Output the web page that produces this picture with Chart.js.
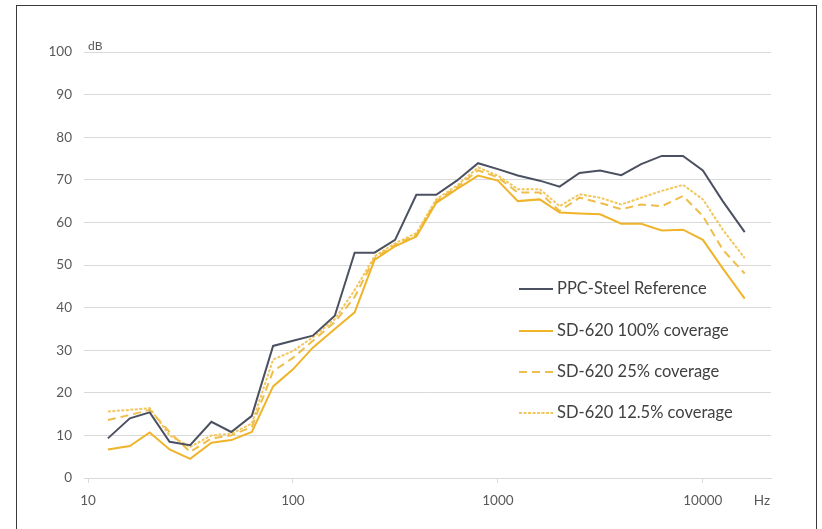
<!DOCTYPE html>
<html>
<head>
<meta charset="utf-8">
<script src="https://cdn.jsdelivr.net/npm/chart.js@4"></script>
<style>
  html, body { margin: 0; padding: 0; background: #fff; overflow: hidden; }
  #wrap { position: relative; width: 822px; height: 529px; }
  #frame { position: absolute; left: 16px; top: 5px; width: 801px; height: 530px; border: 1px solid #3a3a3a; box-sizing: border-box; pointer-events: none; }
</style>
</head>
<body>
<div id="wrap">
  <canvas id="lineChart" width="822" height="529"></canvas>
  <div id="frame"></div>
</div>
<script>
/* Data */
const freqs = [12.5, 16, 20, 25, 31.5, 40, 50, 63, 80, 100, 125, 160, 200, 250, 315, 400, 500, 630, 800, 1000, 1250, 1600, 2000, 2500, 3150, 4000, 5000, 6300, 8000, 10000, 12500, 16000];
const steelRef = [9.3, 14.0, 15.4, 8.5, 7.7, 13.2, 10.8, 14.6, 31.0, 32.2, 33.4, 38.1, 52.9, 52.9, 55.9, 66.5, 66.5, 69.8, 73.9, 72.5, 71.0, 69.8, 68.4, 71.6, 72.2, 71.1, 73.7, 75.6, 75.6, 72.2, 65.0, 57.7];
const sd100 = [6.7, 7.5, 10.7, 6.7, 4.5, 8.3, 8.9, 10.8, 21.5, 25.5, 30.6, 35.0, 38.9, 51.2, 54.4, 56.7, 64.6, 67.8, 71.0, 69.8, 65.0, 65.4, 62.3, 62.1, 61.9, 59.7, 59.7, 58.1, 58.3, 55.9, 49.2, 42.1];
const sd25 = [13.6, 14.8, 16.0, 10.8, 6.1, 9.3, 10.0, 12.0, 25.1, 28.2, 32.2, 36.6, 42.5, 51.6, 54.7, 57.1, 65.0, 68.2, 72.2, 70.6, 67.0, 67.0, 62.7, 65.8, 64.6, 63.1, 64.2, 63.8, 66.2, 61.5, 53.6, 48.0];
const sd125 = [15.6, 16.0, 16.4, 10.0, 7.3, 10.0, 10.4, 12.8, 27.8, 29.8, 33.0, 37.3, 44.1, 52.0, 55.1, 57.5, 65.4, 68.6, 72.9, 71.0, 67.8, 67.8, 63.8, 66.6, 65.8, 64.2, 65.8, 67.4, 68.8, 65.4, 58.3, 51.6];
const seriesNames = ["PPC-Steel Reference", "SD-620 100% coverage", "SD-620 25% coverage", "SD-620 12.5% coverage"];
const xTicks = [10, 100, 1000, 10000];
const xUnit = "Hz";
const yUnit = "dB";

// pair each value with its frequency
function toPoints(vals) {
  return vals.map((v, i) => ({ x: freqs[i], y: v }));
}

/* Legend drawn inside the plot, Excel style */
const insideLegend = {
  id: "insideLegend",
  afterDraw(chart) {
    const c = chart.ctx;
    const x0 = 519, x1 = 553, tx = 557;
    const rows = [289, 331, 372, 413];
    c.save();
    c.font = "16.5px Lato";
    c.textBaseline = "middle";
    chart.data.datasets.forEach((ds, i) => {
      c.strokeStyle = ds.borderColor;
      c.lineWidth = ds.borderWidth;
      c.setLineDash(ds.borderDash || []);
      c.beginPath();
      c.moveTo(x0, rows[i]);
      c.lineTo(x1, rows[i]);
      c.stroke();
      c.setLineDash([]);
      c.fillStyle = "#404040";
      c.fillText(ds.label, tx, rows[i]);
    });
    // unit label on the y axis
    const y = chart.scales.y;
    c.font = "12px Lato";
    c.fillStyle = "#595959";
    c.textBaseline = "alphabetic";
    c.fillText(yUnit, chart.chartArea.left + 4, y.getPixelForValue(100) - 2);
    c.restore();
  }
};

const ctx = document.getElementById("lineChart").getContext("2d");
const lineChart = new Chart(ctx, {
  type: "line",
  data: {
    datasets: [
      { label: seriesNames[0], data: toPoints(steelRef), borderColor: "#4b5160", borderWidth: 2 },
      { label: seriesNames[1], data: toPoints(sd100), borderColor: "#efb42a", borderWidth: 2 },
      { label: seriesNames[2], data: toPoints(sd25), borderColor: "#efbd4c", borderWidth: 2, borderDash: [8, 5] },
      { label: seriesNames[3], data: toPoints(sd125), borderColor: "#f2c75e", borderWidth: 2, borderDash: [3, 1.5] },
    ],
  },
  options: {
    responsive: false,
    animation: false,
    layout: { padding: { top: 52, right: 51, left: 0, bottom: 0 } },
    elements: { point: { radius: 0 }, line: { tension: 0 } },
    plugins: { legend: { display: false }, tooltip: { enabled: false } },
    scales: {
      x: {
        type: "logarithmic",
        min: 9.56,
        max: 21500,
        afterBuildTicks: (s) => {
          s.ticks = xTicks.concat([19400]).map((v) => ({ value: v }));
        },
        afterFit: (s) => { s.height = 51; },
        ticks: {
          autoSkip: false,
          maxRotation: 0,
          padding: 10,
          color: "#595959",
          font: { family: "Lato", size: 13.5 },
          callback: (v) => (xTicks.includes(v) ? String(v) : xUnit),
        },
        grid: {
          drawOnChartArea: false,
          tickLength: 5,
          color: (c) => (c.index < xTicks.length ? "#d9d9d9" : "rgba(0,0,0,0)"),
        },
        border: { color: "#d9d9d9" },
      },
      y: {
        min: 0,
        max: 100,
        afterFit: (s) => { s.width = 84; },
        ticks: {
          stepSize: 10,
          padding: 12,
          color: "#595959",
          font: { family: "Lato", size: 13.5 },
        },
        grid: { color: "#d9d9d9", drawTicks: false },
        border: { display: false },
      },
    },
  },
  plugins: [insideLegend],
});
</script>
</body>
</html>
